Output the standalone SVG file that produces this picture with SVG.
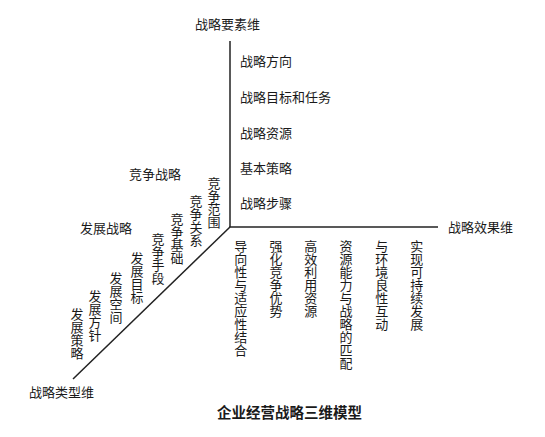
<svg xmlns="http://www.w3.org/2000/svg" width="545" height="437" viewBox="0 0 545 437">
<style>
text{font-family:"Noto Sans CJK SC","Noto Sans CJK JP",sans-serif;font-size:13px;fill:#1a1a1a}
.v{writing-mode:vertical-rl;text-orientation:upright}
.axis{stroke:#222;stroke-width:1.5;fill:none}
.title{font-size:14.5px;font-weight:bold}
</style>
<rect width="545" height="437" fill="#fff"/>
<g id="connectors">
<line class="axis" x1="230" y1="41" x2="230" y2="227"/>
<line class="axis" x1="229.3" y1="227" x2="438" y2="227"/>
<line class="axis" x1="230" y1="227" x2="73" y2="379"/>
</g>
<g id="axis-elements">
<text x="195" y="29">战略要素维</text>
<text x="240" y="66">战略方向</text>
<text x="240" y="102">战略目标和任务</text>
<text x="240" y="138">战略资源</text>
<text x="240" y="173">基本策略</text>
<text x="240" y="208">战略步骤</text>
</g>
<g id="axis-effect">
<text x="448" y="232">战略效果维</text>
<text class="v" x="240.7" y="240">导向性与适应性结合</text>
<text class="v" x="276" y="240">强化竞争优势</text>
<text class="v" x="310.7" y="240">高效利用资源</text>
<text class="v" x="346" y="240">资源能力与战略的匹配</text>
<text class="v" x="381.7" y="240">与环境良性互动</text>
<text class="v" x="416.7" y="240">实现可持续发展</text>
</g>
<g id="axis-type">
<text x="29" y="397">战略类型维</text>
<text x="129" y="179">竞争战略</text>
<text x="80" y="233">发展战略</text>
<text class="v" x="214" y="177">竞争范围</text>
<text class="v" x="196" y="195">竞争关系</text>
<text class="v" x="177" y="213">竞争基础</text>
<text class="v" x="158" y="233">竞争手段</text>
<text class="v" x="137" y="252">发展目标</text>
<text class="v" x="116" y="272">发展空间</text>
<text class="v" x="95" y="290">发展方针</text>
<text class="v" x="77" y="308">发展策略</text>
</g>
<g id="caption">
<text class="title" x="217" y="418">企业经营战略三维模型</text>
</g>
</svg>
